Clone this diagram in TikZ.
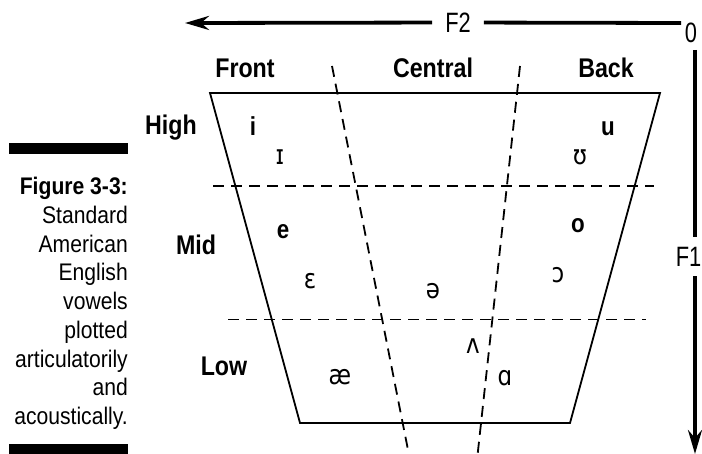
\documentclass[tikz,border=0pt]{standalone}
\usepackage{fontspec}
\setmainfont{Liberation Sans}
\newfontfamily\condfont[FakeStretch=0.86]{Liberation Sans}
\newfontfamily\axisfont[FakeStretch=0.78]{Liberation Sans}
\newfontfamily\capfont[FakeStretch=0.88]{Liberation Sans}
\newfontfamily\ipafont[FakeStretch=0.85]{DejaVu Sans}
\usetikzlibrary{arrows.meta,positioning}
\tikzset{
    heading/.style={
        font=\condfont\bfseries\fontsize{27}{27}\selectfont,
        inner sep=0pt, anchor=base
    },
    axislabel/.style={
        font=\axisfont\fontsize{28}{28}\selectfont,
        inner sep=0pt
    },
    vowelbold/.style={
        font=\condfont\bfseries\fontsize{26}{26}\selectfont,
        inner sep=0pt, anchor=base
    },
    ipa/.style={
        font=\ipafont\fontsize{27}{27}\selectfont,
        inner sep=0pt, anchor=base
    },
    axisline/.style={line width=3.8pt},
    axisarrow/.style={
        line width=3.8pt,
        -{Stealth[length=24pt,width=14pt,inset=8pt]}
    },
    chart/.style={line width=1.8pt, line join=miter},
    divider/.style={line width=1.8pt, dash pattern=on 11pt off 7pt},
    capbar/.style={fill=black}
}

\begin{document}
\begin{tikzpicture}[x=1pt,y=-1pt]
    \useasboundingbox (0,0) rectangle (702,454);

    % caption
    \fill[capbar] (9,143) rectangle (128,154);
    \fill[capbar] (9,444) rectangle (128,454);
    \node[font=\capfont\fontsize{24}{28.75}\selectfont, align=right,
          inner sep=0pt, anchor=north east] (caption) at (128,177)
        {\textbf{Figure 3-3:}\\Standard\\American\\English\\vowels\\plotted\\articulatorily\\and\\acoustically.};

    % axes
    \coordinate (f2tip) at (185,23);
    \coordinate (origin) at (681,23);
    \coordinate (f1top) at (695,50);
    \coordinate (f1tip) at (695,454);
    \node[axislabel, inner xsep=13pt] (f2) at (458,22.5) {F2};
    \node[axislabel, anchor=base] (zero) at (691,43) {0};
    \node[axislabel, inner ysep=10pt] (f1) at (688.5,256.5) {F1};
    \draw[axisarrow] (f2) -- (f2tip);
    \draw[axisline] (f2) -- (origin);
    \draw[axisline] (f1top) -- (f1top |- f1.north);
    \draw[axisarrow] (f1top |- f1.south) -- (f1tip);

    % vowel chart
    \coordinate (tl) at (210,93);
    \coordinate (tr) at (660,93);
    \coordinate (br) at (570,423);
    \coordinate (bl) at (300,423);
    \draw[chart] (tl) -- (tr) -- (br) -- (bl) -- cycle;

    \coordinate (hi-w) at (213,186);
    \coordinate (hi-e) at (654,186);
    \coordinate (lo-w) at (228,319.5);
    \coordinate (lo-e) at (646,319.5);
    \coordinate (fc-n) at (332,66);
    \coordinate (fc-s) at (410,460);
    \coordinate (cb-n) at (520,66);
    \coordinate (cb-s) at (477,460);
    \draw[divider] (hi-w) -- (hi-e);
    \draw[divider] (lo-w) -- (lo-e);
    \draw[divider] (fc-n) -- (fc-s);
    \draw[divider] (cb-n) -- (cb-s);

    \node[heading] (front) at (245,78) {Front};
    \node[heading] (central) at (433,78) {Central};
    \node[heading] (back) at (606,78) {Back};
    \node[heading] (high) at (171,135) {High};
    \node[heading] (mid) at (196,255) {Mid};
    \node[heading] (low) at (224,376) {Low};

    % vowels
    \node[vowelbold] (v-i) at (253,136) {i};
    \node[ipa] (v-I) at (280,165) {ɪ};
    \node[vowelbold] (v-u) at (608,136) {u};
    \node[ipa] (v-U) at (580,165) {ʊ};
    \node[vowelbold] (v-e) at (283,239) {e};
    \node[ipa] (v-E) at (310,289) {ɛ};
    \node[ipa] (v-schwa) at (433,299) {ə};
    \node[vowelbold] (v-o) at (578,233) {o};
    \node[ipa] (v-O) at (558,283) {ɔ};
    \node[ipa] (v-V) at (473,354) {ʌ};
    \node[ipa] (v-ae) at (340,385) {æ};
    \node[ipa] (v-A) at (505,386) {ɑ};
\end{tikzpicture}
\end{document}
